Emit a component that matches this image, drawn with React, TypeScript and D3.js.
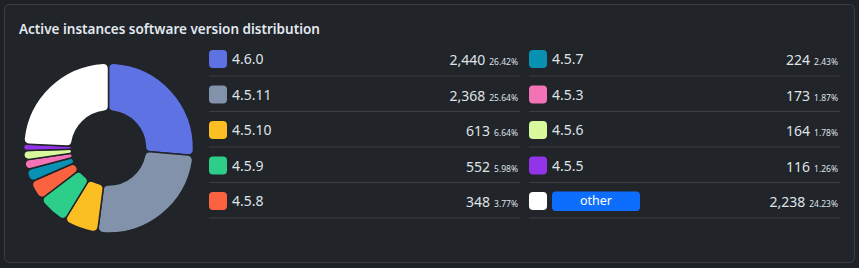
import React, { useEffect } from 'react';
import * as d3 from 'd3';

const versions = ['4.6.0', '4.5.11', '4.5.10', '4.5.9', '4.5.8', '4.5.7', '4.5.3', '4.5.6', '4.5.5', 'other'];
const counts = [2440, 2368, 613, 552, 348, 224, 173, 164, 116, 2238];
const colors = ['#5e72e4', '#8392ab', '#fbbf24', '#2dce89', '#fb6340', '#0891b2', '#f472b6', '#d9f99d', '#9333ea', '#ffffff'];

const W = 859;
const H = 268;
const FONT = '"Noto Sans", "Open Sans", sans-serif';
const TEXT = '#dfe3e8';
const CARD = '#212429';

const App = () => {
  useEffect(() => {
    document.body.style.margin = '0';
    document.body.style.background = '#1e2125';
  }, []);

  const slices = versions.map((v, i) => ({ version: v, count: counts[i], color: colors[i] }));
  const total = d3.sum(counts);
  const fmtCount = d3.format(',');
  const fmtPct = d3.format('.2%');

  const pie = d3.pie<any>().value(d => d.count).sort(null);
  const arc = d3.arc<any>().innerRadius(37).outerRadius(85).cornerRadius(5);

  // legend rows: two columns of five
  const rowY = d3.scaleBand<number>().domain(d3.range(5)).range([40.5, 218]);
  const columns = [
    { x0: 209, x1: 520 },
    { x0: 529, x1: 840 },
  ];

  return (
    <svg width={W} height={H} style={{ position: 'absolute', left: 0, top: 0, display: 'block' }} fontFamily={FONT}>
      <rect x={0} y={0} width={W} height={H} fill="#1e2125" />
      <rect x={4.5} y={4.5} width={W - 9} height={H - 10} rx={5} fill={CARD} stroke="#3b3f45" />
      <text x={19} y={34} fill="#e2e8f0" fontSize={13.5} fontWeight={600}>
        Active instances software version distribution
      </text>

      <g transform="translate(108.5,148)">
        {pie(slices).map(p => (
          <path key={p.data.version} d={arc(p) as string} fill={p.data.color} stroke={CARD} strokeWidth={1.5} />
        ))}
      </g>

      {slices.map((s, i) => {
        const col = columns[Math.floor(i / 5)];
        const band = rowY(i % 5) as number;
        const cy = band + 18.5;
        const labelX = col.x0 + 23;
        return (
          <g key={s.version}>
            <rect x={col.x0} y={cy - 9} width={18} height={18} rx={4} fill={s.color} />
            {s.version === 'other' ? (
              <g>
                <rect x={labelX} y={cy - 9.5} width={88} height={19.5} rx={4} fill="#0d6efd" />
                <text x={labelX + 44} y={cy} dy="0.35em" textAnchor="middle" fill="#ffffff" fontSize={12.5}>
                  {s.version}
                </text>
              </g>
            ) : (
              <text x={labelX} y={cy} dy="0.38em" fill={TEXT} fontSize={14}>
                {s.version}
              </text>
            )}
            <text x={col.x1 - 2} y={cy} dy="0.38em" textAnchor="end" fill={TEXT}>
              <tspan fontSize={14}>{fmtCount(s.count)}</tspan>
              <tspan fontSize={8.5} dx={4}>{fmtPct(s.count / total)}</tspan>
            </text>
            <line
              x1={col.x0}
              x2={col.x1}
              y1={band + rowY.bandwidth()}
              y2={band + rowY.bandwidth()}
              stroke="#3b3f45"
              strokeWidth={1}
            />
          </g>
        );
      })}
    </svg>
  );
};

export default App;
